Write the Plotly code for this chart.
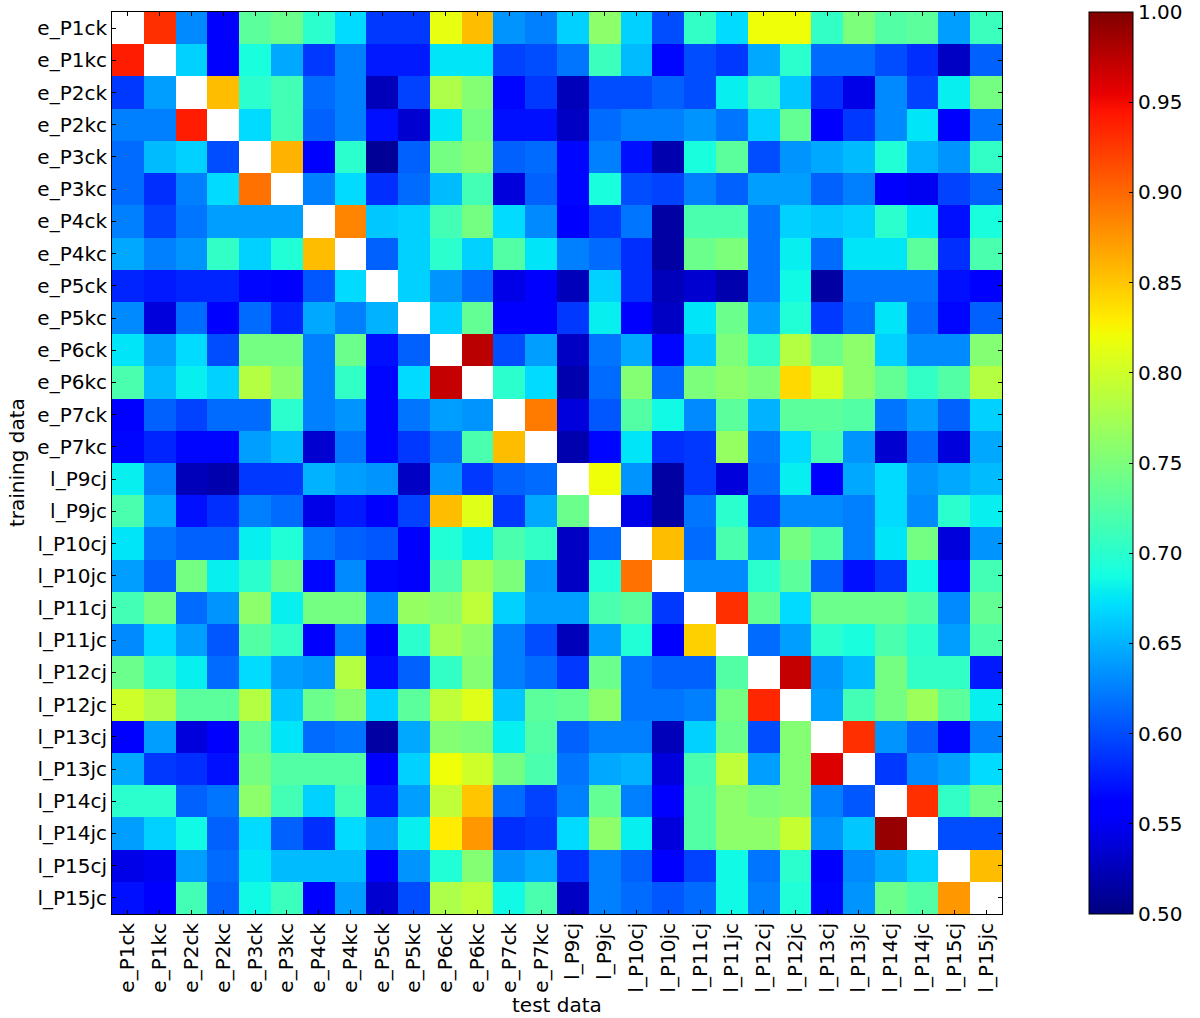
import numpy as np
import plotly.graph_objects as go

labels = ["e_P1ck", "e_P1kc", "e_P2ck", "e_P2kc", "e_P3ck", "e_P3kc", "e_P4ck", "e_P4kc",
          "e_P5ck", "e_P5kc", "e_P6ck", "e_P6kc", "e_P7ck", "e_P7kc",
          "l_P9cj", "l_P9jc", "l_P10cj", "l_P10jc", "l_P11cj", "l_P11jc", "l_P12cj", "l_P12jc",
          "l_P13cj", "l_P13jc", "l_P14cj", "l_P14jc", "l_P15cj", "l_P15jc"]

row_e_P1ck = [None, 0.93, 0.63, 0.56, 0.73, 0.74, 0.70, 0.67, 0.59, 0.59, 0.815, 0.855, 0.635, 0.625, 0.665, 0.76, 0.665, 0.60, 0.705, 0.67, 0.82, 0.82, 0.705, 0.75, 0.725, 0.73, 0.64, 0.71]
row_e_P1kc = [0.94, None, 0.665, 0.56, 0.69, 0.645, 0.59, 0.625, 0.575, 0.575, 0.675, 0.675, 0.595, 0.60, 0.62, 0.71, 0.655, 0.565, 0.60, 0.59, 0.645, 0.70, 0.615, 0.615, 0.60, 0.585, 0.53, 0.61]
row_e_P2ck = [0.59, 0.64, None, 0.855, 0.70, 0.715, 0.615, 0.625, 0.525, 0.595, 0.78, 0.755, 0.565, 0.59, 0.525, 0.60, 0.60, 0.61, 0.60, 0.68, 0.71, 0.66, 0.585, 0.545, 0.63, 0.595, 0.68, 0.745]
row_e_P2kc = [0.625, 0.625, 0.94, None, 0.67, 0.715, 0.61, 0.625, 0.57, 0.535, 0.675, 0.745, 0.57, 0.57, 0.53, 0.615, 0.625, 0.625, 0.635, 0.62, 0.665, 0.735, 0.56, 0.59, 0.63, 0.675, 0.56, 0.62]
row_e_P3ck = [0.615, 0.655, 0.665, 0.60, None, 0.86, 0.56, 0.70, 0.51, 0.61, 0.745, 0.755, 0.61, 0.615, 0.565, 0.625, 0.57, 0.52, 0.69, 0.73, 0.60, 0.635, 0.645, 0.655, 0.695, 0.65, 0.635, 0.705]
row_e_P3kc = [0.615, 0.585, 0.625, 0.67, 0.895, None, 0.625, 0.67, 0.585, 0.615, 0.655, 0.715, 0.54, 0.61, 0.565, 0.69, 0.60, 0.595, 0.625, 0.61, 0.64, 0.64, 0.61, 0.625, 0.56, 0.55, 0.595, 0.61]
row_e_P4ck = [0.625, 0.595, 0.62, 0.64, 0.64, 0.64, None, 0.885, 0.66, 0.665, 0.715, 0.745, 0.67, 0.63, 0.56, 0.59, 0.62, 0.515, 0.72, 0.72, 0.62, 0.665, 0.66, 0.665, 0.70, 0.675, 0.57, 0.69]
row_e_P4kc = [0.645, 0.625, 0.635, 0.705, 0.665, 0.695, 0.855, None, 0.61, 0.665, 0.70, 0.665, 0.725, 0.675, 0.625, 0.615, 0.585, 0.515, 0.74, 0.75, 0.62, 0.68, 0.615, 0.675, 0.675, 0.73, 0.585, 0.72]
row_e_P5ck = [0.58, 0.575, 0.58, 0.58, 0.565, 0.56, 0.605, 0.67, None, 0.665, 0.635, 0.615, 0.545, 0.56, 0.525, 0.665, 0.585, 0.525, 0.535, 0.52, 0.62, 0.685, 0.515, 0.62, 0.62, 0.62, 0.57, 0.56]
row_e_P5kc = [0.63, 0.54, 0.615, 0.56, 0.615, 0.58, 0.645, 0.625, 0.65, None, 0.665, 0.735, 0.56, 0.56, 0.59, 0.68, 0.56, 0.53, 0.675, 0.74, 0.64, 0.695, 0.59, 0.615, 0.675, 0.615, 0.565, 0.61]
row_e_P6ck = [0.675, 0.64, 0.67, 0.60, 0.745, 0.745, 0.625, 0.74, 0.57, 0.61, None, 0.975, 0.60, 0.64, 0.53, 0.62, 0.645, 0.565, 0.66, 0.75, 0.705, 0.785, 0.74, 0.76, 0.665, 0.63, 0.63, 0.755]
row_e_P6kc = [0.72, 0.655, 0.68, 0.665, 0.785, 0.76, 0.625, 0.705, 0.565, 0.67, 0.97, None, 0.70, 0.67, 0.52, 0.615, 0.755, 0.615, 0.75, 0.76, 0.75, 0.84, 0.805, 0.76, 0.735, 0.705, 0.725, 0.785]
row_e_P7ck = [0.56, 0.61, 0.595, 0.615, 0.615, 0.70, 0.625, 0.635, 0.565, 0.62, 0.64, 0.635, None, 0.89, 0.54, 0.605, 0.725, 0.685, 0.63, 0.73, 0.65, 0.73, 0.73, 0.725, 0.62, 0.64, 0.61, 0.665]
row_e_P7kc = [0.565, 0.58, 0.565, 0.565, 0.64, 0.655, 0.535, 0.62, 0.565, 0.59, 0.615, 0.72, 0.855, None, 0.52, 0.565, 0.675, 0.585, 0.59, 0.765, 0.62, 0.67, 0.72, 0.635, 0.535, 0.615, 0.54, 0.645]
row_l_P9cj = [0.68, 0.625, 0.525, 0.52, 0.59, 0.59, 0.65, 0.64, 0.635, 0.53, 0.635, 0.59, 0.61, 0.615, None, 0.82, 0.635, 0.515, 0.59, 0.54, 0.615, 0.68, 0.56, 0.645, 0.67, 0.635, 0.645, 0.655]
row_l_P9jc = [0.72, 0.645, 0.57, 0.585, 0.625, 0.615, 0.545, 0.575, 0.56, 0.595, 0.855, 0.81, 0.59, 0.645, 0.74, None, 0.545, 0.515, 0.62, 0.70, 0.59, 0.63, 0.63, 0.625, 0.67, 0.63, 0.70, 0.68]
row_l_P10cj = [0.675, 0.62, 0.61, 0.61, 0.68, 0.695, 0.62, 0.61, 0.605, 0.56, 0.695, 0.68, 0.72, 0.705, 0.53, 0.615, None, 0.855, 0.615, 0.72, 0.635, 0.745, 0.725, 0.625, 0.675, 0.745, 0.54, 0.635]
row_l_P10jc = [0.64, 0.61, 0.745, 0.68, 0.70, 0.74, 0.565, 0.63, 0.565, 0.56, 0.72, 0.775, 0.75, 0.635, 0.53, 0.695, 0.895, None, 0.63, 0.63, 0.70, 0.73, 0.61, 0.57, 0.59, 0.685, 0.565, 0.715]
row_l_P11cj = [0.715, 0.745, 0.615, 0.635, 0.76, 0.68, 0.745, 0.745, 0.63, 0.765, 0.76, 0.79, 0.665, 0.64, 0.64, 0.72, 0.73, 0.59, None, 0.93, 0.735, 0.67, 0.74, 0.74, 0.74, 0.725, 0.63, 0.735]
row_l_P11jc = [0.63, 0.67, 0.64, 0.605, 0.725, 0.705, 0.56, 0.625, 0.56, 0.70, 0.775, 0.76, 0.625, 0.60, 0.525, 0.64, 0.695, 0.56, 0.845, None, 0.615, 0.64, 0.70, 0.69, 0.72, 0.70, 0.64, 0.72]
row_l_P12cj = [0.74, 0.705, 0.68, 0.615, 0.67, 0.64, 0.635, 0.785, 0.57, 0.61, 0.705, 0.755, 0.625, 0.615, 0.59, 0.74, 0.62, 0.61, 0.61, 0.725, None, 0.97, 0.635, 0.655, 0.745, 0.705, 0.705, 0.575]
row_l_P12jc = [0.80, 0.78, 0.73, 0.73, 0.785, 0.66, 0.74, 0.755, 0.665, 0.73, 0.79, 0.81, 0.66, 0.73, 0.735, 0.76, 0.62, 0.62, 0.625, 0.745, 0.935, None, 0.64, 0.715, 0.745, 0.77, 0.73, 0.68]
row_l_P13cj = [0.56, 0.64, 0.54, 0.56, 0.735, 0.675, 0.615, 0.62, 0.515, 0.645, 0.755, 0.75, 0.68, 0.725, 0.61, 0.625, 0.625, 0.525, 0.665, 0.74, 0.60, 0.755, None, 0.93, 0.635, 0.61, 0.565, 0.625]
row_l_P13jc = [0.645, 0.59, 0.585, 0.57, 0.745, 0.725, 0.725, 0.725, 0.56, 0.665, 0.82, 0.80, 0.745, 0.72, 0.62, 0.645, 0.65, 0.54, 0.72, 0.79, 0.64, 0.755, 0.96, None, 0.59, 0.63, 0.64, 0.67]
row_l_P14cj = [0.70, 0.70, 0.61, 0.62, 0.76, 0.715, 0.665, 0.715, 0.575, 0.64, 0.79, 0.85, 0.615, 0.595, 0.625, 0.735, 0.625, 0.56, 0.725, 0.76, 0.75, 0.755, 0.625, 0.605, None, 0.93, 0.705, 0.74]
row_l_P14jc = [0.64, 0.665, 0.685, 0.61, 0.67, 0.61, 0.585, 0.67, 0.64, 0.68, 0.83, 0.875, 0.585, 0.59, 0.67, 0.76, 0.68, 0.54, 0.725, 0.76, 0.76, 0.795, 0.635, 0.66, 0.99, None, 0.60, 0.60]
row_l_P15cj = [0.545, 0.55, 0.64, 0.615, 0.675, 0.655, 0.655, 0.655, 0.56, 0.635, 0.695, 0.755, 0.635, 0.645, 0.585, 0.625, 0.61, 0.56, 0.595, 0.685, 0.62, 0.70, 0.56, 0.63, 0.645, 0.665, None, 0.855]
row_l_P15jc = [0.57, 0.56, 0.715, 0.61, 0.685, 0.71, 0.56, 0.64, 0.535, 0.60, 0.78, 0.79, 0.685, 0.72, 0.53, 0.625, 0.615, 0.605, 0.615, 0.685, 0.625, 0.695, 0.565, 0.635, 0.74, 0.725, 0.875, None]

colorbar_ticks = [0.50, 0.55, 0.60, 0.65, 0.70, 0.75, 0.80, 0.85, 0.90, 0.95, 1.00]
x_title = "test data"
y_title = "training data"

z = [row_e_P1ck, row_e_P1kc, row_e_P2ck, row_e_P2kc, row_e_P3ck, row_e_P3kc, row_e_P4ck,
     row_e_P4kc, row_e_P5ck, row_e_P5kc, row_e_P6ck, row_e_P6kc, row_e_P7ck, row_e_P7kc,
     row_l_P9cj, row_l_P9jc, row_l_P10cj, row_l_P10jc, row_l_P11cj, row_l_P11jc,
     row_l_P12cj, row_l_P12jc, row_l_P13cj, row_l_P13jc, row_l_P14cj, row_l_P14jc,
     row_l_P15cj, row_l_P15jc]

# matplotlib "jet" colormap
red = [(0, 0), (0.35, 0), (0.66, 1), (0.89, 1), (1, 0.5)]
green = [(0, 0), (0.125, 0), (0.375, 1), (0.64, 1), (0.91, 0), (1, 0)]
blue = [(0, 0.5), (0.11, 1), (0.34, 1), (0.65, 0), (1, 0)]
stops = sorted(set([p for p, _ in red] + [p for p, _ in green] + [p for p, _ in blue]))
def chan(seg, t):
    return float(np.interp(t, [p for p, _ in seg], [v for _, v in seg]))
jet = [[t, "rgb(%d,%d,%d)" % (round(255 * chan(red, t)), round(255 * chan(green, t)), round(255 * chan(blue, t)))]
       for t in stops]

FONT = "DejaVu Sans"
L, R, T, B = 112, 1012, 12, 914   # plot-area pixel box
W_PLOT, H_PLOT = R - L, B - T

fig = go.Figure(go.Heatmap(
    z=z, x=labels, y=labels,
    colorscale=jet, zmin=0.5, zmax=1.0, hoverongaps=False, hoverinfo="skip",
    colorbar=dict(
        x=(1100 - L) / W_PLOT, xanchor="left", xpad=0, ypad=0,
        y=0.5, yanchor="middle", len=1, lenmode="fraction",
        thickness=44, outlinewidth=1, outlinecolor="black",
        tickvals=colorbar_ticks, ticktext=["%.2f" % v for v in colorbar_ticks],
        ticks="inside", ticklen=4, tickcolor="black",
        tickfont=dict(family=FONT, size=20, color="black"),
    ),
))

fig.update_layout(
    width=1200, height=1018,
    margin=dict(l=L, r=1200 - R, t=T, b=1018 - B),
    paper_bgcolor="white", plot_bgcolor="white",
    font=dict(family=FONT, size=20, color="black"),
    annotations=[
        dict(text=x_title, xref="paper", yref="paper",
             x=0.5, y=(B - 1005) / H_PLOT, xanchor="center", yanchor="middle",
             showarrow=False, font=dict(family=FONT, size=20, color="black")),
        dict(text=y_title, xref="paper", yref="paper", textangle=-90,
             x=(16 - L) / W_PLOT, y=0.5, xanchor="center", yanchor="middle",
             showarrow=False, font=dict(family=FONT, size=20, color="black")),
    ],
)
fig.update_xaxes(
    type="category", tickangle=-90, ticks="inside", ticklen=4, tickcolor="black",
    showline=True, linecolor="black", linewidth=1, mirror="ticks", automargin=False,
    tickfont=dict(family=FONT, size=20, color="black"),
    showgrid=False, zeroline=False,
)
fig.update_yaxes(
    type="category", autorange="reversed", ticks="inside", ticklen=4, tickcolor="black",
    showline=True, linecolor="black", linewidth=1, mirror="ticks", automargin=False,
    tickfont=dict(family=FONT, size=20, color="black"),
    showgrid=False, zeroline=False,
)

fig.write_html("out.html", config={"displayModeBar": False},
               post_script="document.body.style.margin='0';document.body.style.overflow='hidden';")
